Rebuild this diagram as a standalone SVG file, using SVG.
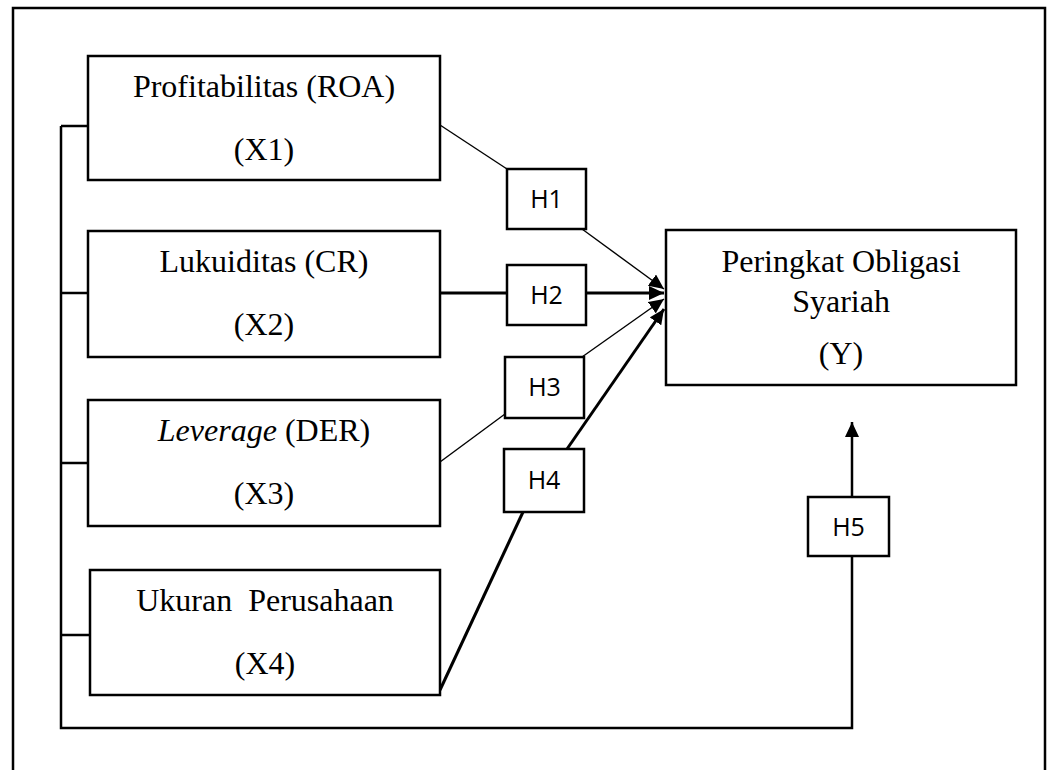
<svg xmlns="http://www.w3.org/2000/svg" width="1047" height="770" viewBox="0 0 1047 770">
<style>
.box{fill:#fff;stroke:#000;stroke-width:2.5}
.t{font-family:"Liberation Serif","Times New Roman",serif;font-size:32px;fill:#000;text-anchor:middle}
.h{font-family:"Open Sans","Liberation Sans",sans-serif;font-size:25px;fill:#000;text-anchor:middle}
.thin{stroke:#000;stroke-width:1.4;fill:none}
.thick{stroke:#000;stroke-width:3;fill:none}
.frame{stroke:#000;stroke-width:2.5;fill:none}
</style>
<defs>
<marker id="arr" markerUnits="userSpaceOnUse" markerWidth="16" markerHeight="14" refX="15" refY="7" orient="auto">
<path d="M0,0 L15,7 L0,14 z" fill="#000"/>
</marker>
</defs>
<rect width="1047" height="770" fill="#fff"/>
<path class="frame" d="M13,775 V8 H1045 V775"/>
<g id="connectors">
<path class="frame" d="M61,126 V728 H852 V556"/>
<path class="frame" d="M61,126 H88 M61,293 H88 M61,463 H88 M61,635 H90"/>
<line class="thin" x1="440" y1="125" x2="507" y2="169"/>
<line class="thin" x1="582" y1="229" x2="664" y2="289" marker-end="url(#arr)"/>
<line class="thick" x1="440" y1="293" x2="507" y2="293"/>
<line class="thick" x1="586" y1="293" x2="664" y2="293" marker-end="url(#arr)"/>
<line class="thin" x1="440" y1="462" x2="505" y2="414"/>
<line class="thin" x1="582" y1="357" x2="664" y2="299" marker-end="url(#arr)"/>
<line class="thick" x1="440" y1="690" x2="523" y2="512"/>
<line class="thick" x1="567" y1="449" x2="664" y2="309" marker-end="url(#arr)"/>
<line class="frame" x1="852" y1="497" x2="852" y2="422" marker-end="url(#arr)"/>
</g>
<g id="x1"><rect class="box" x="88" y="56" width="352" height="124"/><text class="t" x="264" y="97">Profitabilitas (ROA)</text><text class="t" x="264" y="160">(X1)</text></g>
<g id="x2"><rect class="box" x="88" y="231" width="352" height="126"/><text class="t" x="264" y="272">Lukuiditas (CR)</text><text class="t" x="264" y="335">(X2)</text></g>
<g id="x3"><rect class="box" x="88" y="400" width="352" height="126"/><text class="t" x="264" y="441"><tspan font-style="italic">Leverage</tspan> (DER)</text><text class="t" x="264" y="504">(X3)</text></g>
<g id="x4"><rect class="box" x="90" y="570" width="350" height="125"/><text class="t" x="265" y="611" xml:space="preserve">Ukuran  Perusahaan</text><text class="t" x="265" y="674">(X4)</text></g>
<g id="y"><rect class="box" x="666" y="230" width="350" height="155"/><text class="t" x="841" y="272">Peringkat Obligasi</text><text class="t" x="841" y="312">Syariah</text><text class="t" x="841" y="364">(Y)</text></g>
<g id="h1"><rect class="box" x="507" y="169" width="79" height="60"/><text class="h" x="546.5" y="208">H1</text></g>
<g id="h2"><rect class="box" x="507" y="265" width="79" height="60"/><text class="h" x="546.5" y="304">H2</text></g>
<g id="h3"><rect class="box" x="505" y="357" width="79" height="61"/><text class="h" x="544.5" y="396">H3</text></g>
<g id="h4"><rect class="box" x="504" y="449" width="80" height="63"/><text class="h" x="544" y="489">H4</text></g>
<g id="h5"><rect class="box" x="808" y="497" width="81" height="59"/><text class="h" x="848.5" y="536">H5</text></g>
</svg>
